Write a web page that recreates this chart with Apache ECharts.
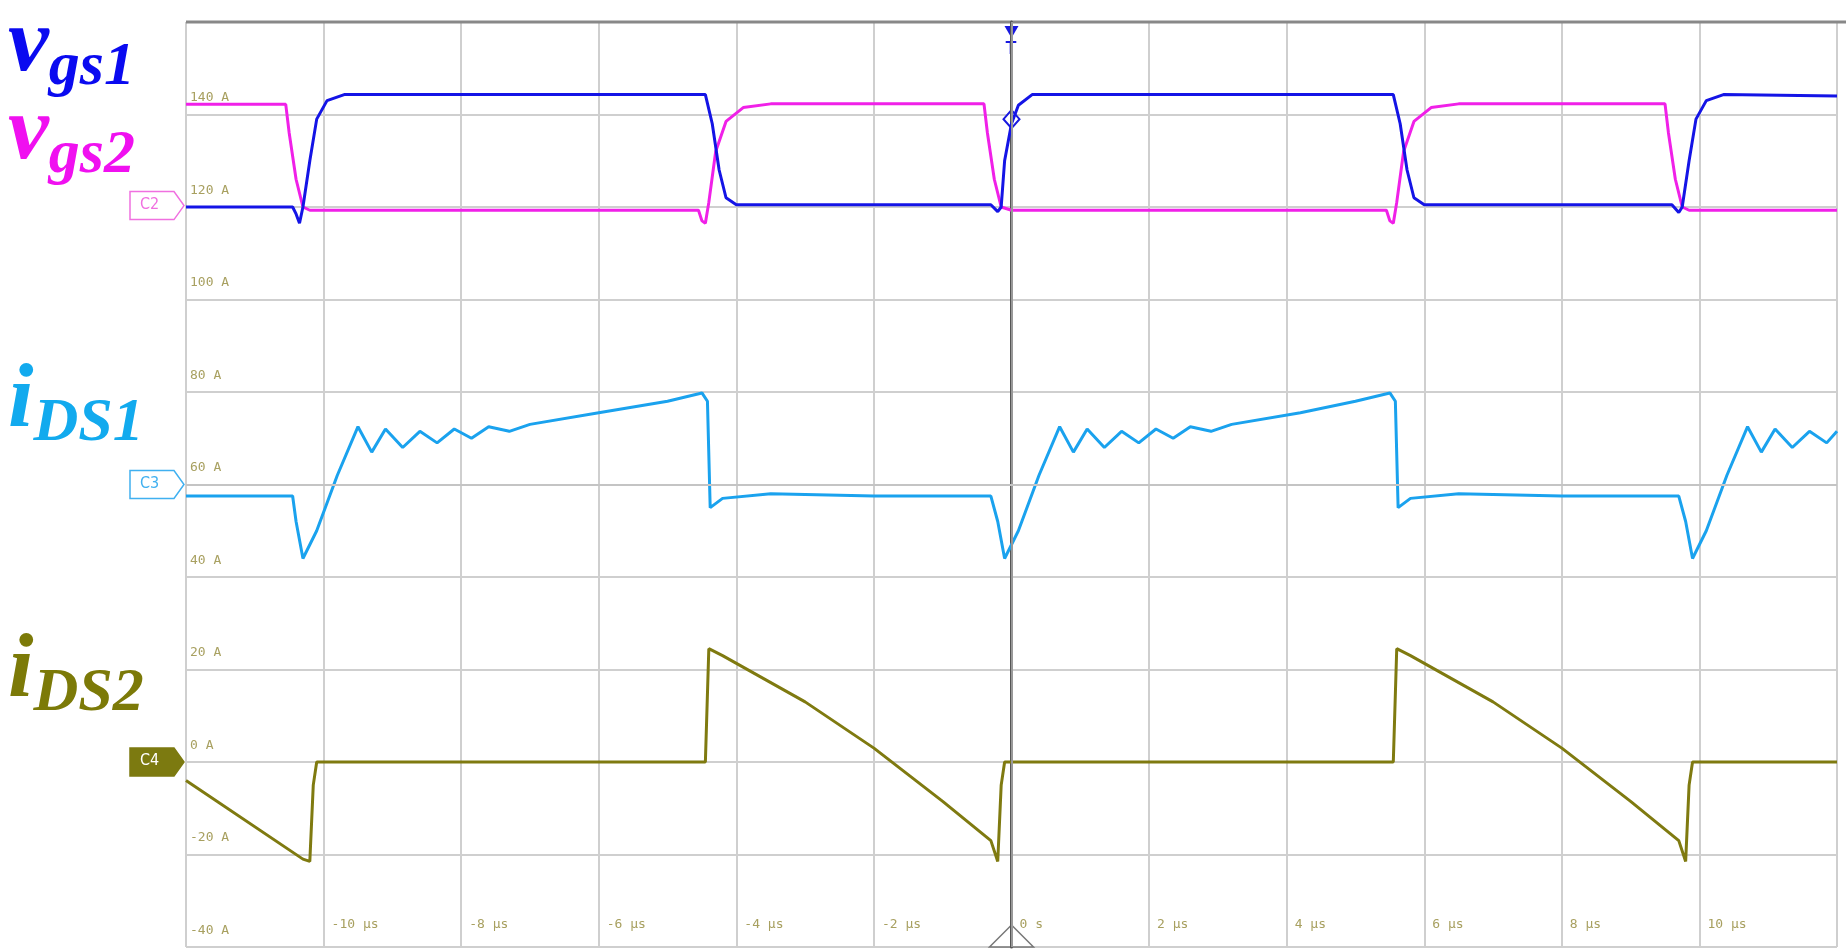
<!DOCTYPE html>
<html>
<head>
<meta charset="utf-8">
<script src="https://cdn.jsdelivr.net/npm/echarts@6/dist/echarts.min.js"></script>
<style>
  html, body { margin: 0; padding: 0; background: #fff; }
  #main { width: 1846px; height: 949px; }
</style>
</head>
<body>
<div id="main"></div>
<script>
// time in µs, values in the scope's "A" units
const xTicks = [-12, -10, -8, -6, -4, -2, 0, 2, 4, 6, 8, 10, 12]
const yTicks = [-40, -20, 0, 20, 40, 60, 80, 100, 120, 140, 160]

const vgs1 = [
  [-12, 120], [-10.45, 120], [-10.4, 118.5], [-10.35, 116.5], [-10.3, 120], [-10.2, 130], [-10.1, 139],
  [-9.95, 143], [-9.7, 144.3], [-4.45, 144.3], [-4.35, 138], [-4.25, 128], [-4.15, 122], [-4.0, 120.5],
  [-0.3, 120.5], [-0.2, 119], [-0.15, 120], [-0.1, 130], [0, 138], [0.1, 142], [0.3, 144.3],
  [5.55, 144.3], [5.65, 138], [5.75, 128], [5.85, 122], [6.0, 120.5], [9.6, 120.5], [9.7, 118.8],
  [9.75, 120], [9.85, 130], [9.95, 139], [10.1, 143], [10.35, 144.3], [12, 144]
]
const vgs2 = [
  [-12, 142.2], [-10.55, 142.2], [-10.5, 136], [-10.4, 126], [-10.3, 120], [-10.2, 119.3],
  [-4.55, 119.3], [-4.5, 117], [-4.45, 116.5], [-4.4, 121], [-4.3, 132], [-4.15, 138.5], [-3.9, 141.5],
  [-3.5, 142.3], [-0.4, 142.3], [-0.35, 136], [-0.25, 126], [-0.15, 120], [0, 119.3],
  [5.45, 119.3], [5.5, 117], [5.55, 116.5], [5.6, 121], [5.7, 132], [5.85, 138.5], [6.1, 141.5],
  [6.5, 142.3], [9.5, 142.3], [9.55, 136], [9.65, 126], [9.75, 120], [9.85, 119.3], [12, 119.3]
]
const iDS1 = [
  [-12, 57.5], [-10.45, 57.5], [-10.4, 52], [-10.3, 44], [-10.1, 50], [-9.8, 62], [-9.5, 72.5],
  [-9.3, 67], [-9.1, 72], [-8.85, 68], [-8.6, 71.5], [-8.35, 69], [-8.1, 72], [-7.85, 70],
  [-7.6, 72.5], [-7.3, 71.5], [-7, 73], [-6, 75.5], [-5, 78], [-4.5, 79.8], [-4.42, 78],
  [-4.38, 55], [-4.2, 57], [-3.5, 58], [-2, 57.5], [-0.3, 57.5], [-0.2, 52], [-0.1, 44],
  [0.1, 50], [0.4, 62], [0.7, 72.5], [0.9, 67], [1.1, 72], [1.35, 68], [1.6, 71.5], [1.85, 69],
  [2.1, 72], [2.35, 70], [2.6, 72.5], [2.9, 71.5], [3.2, 73], [4.2, 75.5], [5.0, 78], [5.5, 79.8],
  [5.58, 78], [5.62, 55], [5.8, 57], [6.5, 58], [8, 57.5], [9.7, 57.5], [9.8, 52], [9.9, 44],
  [10.1, 50], [10.4, 62], [10.7, 72.5], [10.9, 67], [11.1, 72], [11.35, 68], [11.6, 71.5],
  [11.85, 69], [12, 71.5]
]
const iDS2 = [
  [-12, -4], [-10.3, -21], [-10.2, -21.5], [-10.15, -5], [-10.1, 0], [-4.45, 0], [-4.4, 24.5],
  [-4.2, 23], [-3, 13], [-2, 3], [-1, -8.5], [-0.3, -17], [-0.2, -21.5], [-0.15, -5], [-0.1, 0],
  [5.55, 0], [5.6, 24.5], [5.8, 23], [7, 13], [8, 3], [9, -8.5], [9.7, -17], [9.8, -21.5],
  [9.85, -5], [9.9, 0], [12, 0]
]

const chart = echarts.init(document.getElementById('main'))

function trace(name, data, color) {
  return {
    name: name, type: 'line', data: data, symbol: 'none', animation: false,
    lineStyle: { color: color, width: 3 }
  }
}

const subStyle = (c, size) => ({ fill: c, fontFamily: 'Liberation Serif', fontStyle: 'italic', fontWeight: 'bold', fontSize: size })

function label(y, main, sub, color) {
  return {
    type: 'text', left: 8, top: y,
    style: {
      text: '{m|' + main + '}{s|' + sub + '}',
      rich: {
        m: subStyle(color, 92),
        s: Object.assign(subStyle(color, 62), { padding: [44, 0, 0, 0] })
      }
    }
  }
}

chart.setOption({
  animation: false,
  grid: { left: 186, right: 9, top: 22, bottom: 2 },
  xAxis: {
    type: 'value', min: -12, max: 12, interval: 2,
    axisLine: { show: false }, axisTick: { show: false },
    splitLine: { lineStyle: { color: '#cfcfcf', width: 2 } },
    axisLabel: {
      inside: true, color: '#a8a060', fontFamily: 'DejaVu Sans Mono', fontSize: 13,
      align: 'left', padding: [0, 0, 0, 8], margin: 16, verticalAlign: 'bottom',
      formatter: v => (v === -12 || v === 12) ? '' : (v === 0 ? '0 s' : v + ' µs')
    }
  },
  yAxis: {
    type: 'value', min: -40, max: 160, interval: 20,
    axisLine: { show: true, lineStyle: { color: '#555', width: 3 } }, axisTick: { show: false },
    splitLine: { lineStyle: { color: '#cfcfcf', width: 2 } },
    axisLabel: {
      inside: true, color: '#a8a060', fontFamily: 'DejaVu Sans Mono', fontSize: 13,
      verticalAlign: 'bottom', padding: [0, 0, 10, 0], margin: 4,
      formatter: v => v === 160 ? '' : v + ' A'
    }
  },
  series: [
    trace('iDS2', iDS2, '#7f7a10'),
    trace('iDS1', iDS1, '#1aa2ee'),
    trace('vgs2', vgs2, '#f020e8'),
    Object.assign(trace('vgs1', vgs1, '#1414e6'), {
      markLine: {
        silent: true, symbol: 'none', label: { show: false },
        data: [
          { xAxis: 0, lineStyle: { color: '#999', width: 2, type: 'solid' } },
          { yAxis: 60, lineStyle: { color: '#c4c4c4', width: 2, type: 'solid' } }
        ]
      }
    })
  ]
})

const yTop = chart.convertToPixel({ yAxisIndex: 0 }, 160)
const x0 = chart.convertToPixel({ xAxisIndex: 0 }, 0)
const xl = chart.convertToPixel({ xAxisIndex: 0 }, -12)
const yb = chart.convertToPixel({ yAxisIndex: 0 }, -40)
const yd = chart.convertToPixel({ yAxisIndex: 0 }, 139)

function marker(value, txt, color, filled) {
  const y = chart.convertToPixel({ yAxisIndex: 0 }, value)
  return {
    type: 'group', x: xl - 56, y: y - 14,
    children: [
      { type: 'polygon', shape: { points: [[0, 0], [44, 0], [54, 14], [44, 28], [0, 28]] },
        style: { fill: filled ? color : '#fff', stroke: color, lineWidth: 1.5 } },
      { type: 'text', x: 10, y: 5, style: { text: txt, fill: filled ? '#fff' : color, fontSize: 16, fontFamily: 'DejaVu Sans Condensed' } }
    ]
  }
}

chart.setOption({
  graphic: [
    { type: 'line', shape: { x1: xl, y1: yTop, x2: 1846, y2: yTop }, style: { stroke: '#888', lineWidth: 3 } },
    label(0, 'v', 'gs1', '#0a0af0'),
    label(88, 'v', 'gs2', '#f010f0'),
    label(356, 'i', 'DS1', '#12aaee'),
    label(626, 'i', 'DS2', '#7c7a08'),
    marker(120.3, 'C2', '#f070e0', false),
    marker(60, 'C3', '#40b0f0', false),
    marker(0, 'C4', '#7c7a10', true),
    { type: 'polygon', shape: { points: [[x0 - 7, yTop + 4], [x0 + 7, yTop + 4], [x0, yTop + 16]] }, style: { fill: '#1818e0' } },
    { type: 'text', x: x0 - 6, y: yTop + 18, style: { text: 'T', fill: '#1818e0', fontSize: 18, fontWeight: 'bold' } },
    { type: 'polygon', shape: { points: [[x0, yb - 22], [x0 + 22, yb], [x0 - 22, yb]] }, style: { fill: 'rgba(255,255,255,0.6)', stroke: '#777', lineWidth: 1.5 } },
    { type: 'polygon', shape: { points: [[x0, yd - 9], [x0 + 8, yd], [x0, yd + 9], [x0 - 8, yd]] }, style: { fill: '#fff', stroke: '#1818e0', lineWidth: 2 } }
  ]
})
</script>
</body>
</html>
